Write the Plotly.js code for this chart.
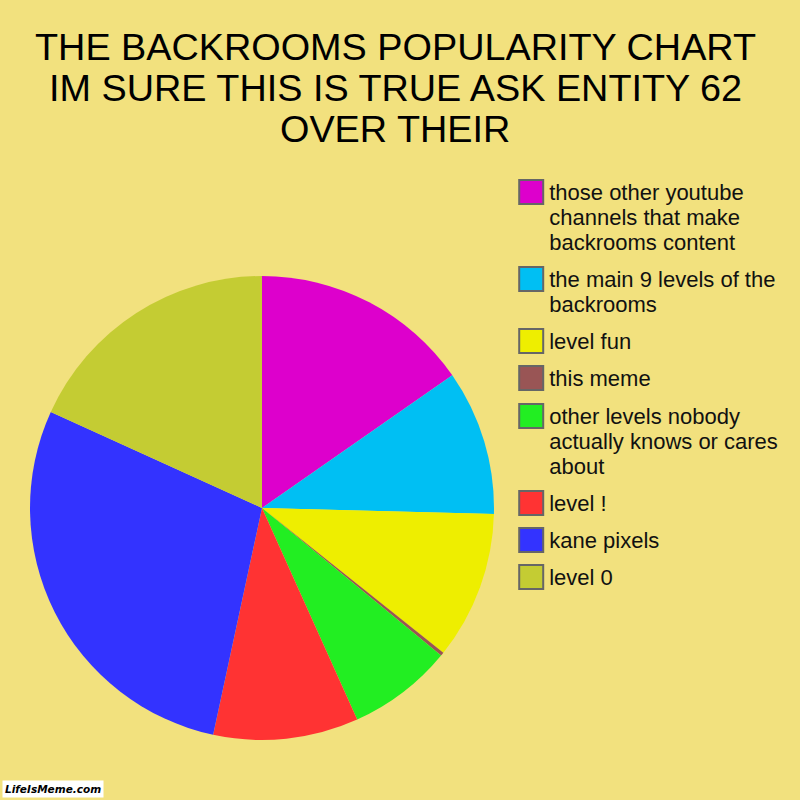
<!DOCTYPE html>
<html>
<head>
<meta charset="utf-8">
<script src="https://cdn.plot.ly/plotly-3.0.1.min.js"></script>
<style>html,body{margin:0;padding:0;background:#f2e17e;}#chart{width:800px;height:800px;}</style>
</head>
<body>
<div id="chart"></div>
<script>
var labels = [
  "those other youtube<br>channels that make<br>backrooms content",
  "the main 9 levels of the<br>backrooms",
  "level fun",
  "this meme",
  "other levels nobody<br>actually knows or cares<br>about",
  "level !",
  "kane pixels",
  "level 0"
];
var values = [15.3, 10.1, 10.3, 0.25, 7.3, 10.1, 28.4, 18.2];
var colors = ["#dd00cc", "#00bff3", "#eeee00", "#995555", "#22ee22", "#ff3333", "#3333ff", "#c4cc33"];
var titleLines = [
  "THE BACKROOMS POPULARITY CHART",
  "IM SURE THIS IS TRUE ASK ENTITY 62",
  "OVER THEIR"
];

var data = [{
  type: "pie",
  labels: labels,
  values: values,
  marker: {colors: colors, line: {width: 0}},
  sort: false,
  direction: "clockwise",
  rotation: 0,
  textinfo: "none",
  hoverinfo: "label+percent",
  domain: {x: [0.0375, 0.6175], y: [0.075, 0.655]}
}];

var titleY = [47, 88, 129];
var annotations = titleLines.map(function (t, i) {
  return {
    text: t,
    xref: "paper", yref: "paper",
    x: 0.494, xanchor: "center",
    y: 1 - (titleY[i]) / 800, yanchor: "middle",
    showarrow: false,
    font: {size: 37.8, color: "#000000"}
  };
});
annotations.push({
  text: "<b><i>LifeIsMeme.com</i></b>",
  xref: "paper", yref: "paper",
  x: 0.003, y: 0.002, xanchor: "left", yanchor: "bottom",
  showarrow: false,
  bgcolor: "#ffffff",
  font: {size: 10.5, color: "#000000", family: "DejaVu Sans, sans-serif"},
  borderpad: 2
});

var layout = {
  width: 800,
  height: 800,
  margin: {l: 0, r: 0, t: 0, b: 0},
  paper_bgcolor: "#f2e17e",
  plot_bgcolor: "#f2e17e",
  font: {family: "Liberation Sans, Arial, sans-serif", color: "#111111"},
  showlegend: true,
  legend: {
    x: 0.639, xanchor: "left",
    y: 0.78, yanchor: "top",
    font: {size: 22, color: "#111111"},
    bgcolor: "rgba(0,0,0,0)",
    traceorder: "normal"
  },
  annotations: annotations
};

// target centres (px) of each legend symbol / first text line
var legendTargets = [192, 279, 341, 378, 416, 503, 540, 577];

Plotly.newPlot("chart", data, layout, {displayModeBar: false, staticPlot: true}).then(function (gd) {
  var fs = 22;
  var items = gd.querySelectorAll(".legend .traces");
  var sc = gd.querySelectorAll(".legend .scrollbox, .legend [clip-path]");
  sc.forEach(function (e) { e.removeAttribute("clip-path"); });
  items.forEach(function (g, i) {
    var p = g.querySelector(".legendpoints path");
    if (p) {
      p.setAttribute("d", "M12,12H-12V-12H12Z");
      p.style.stroke = "#666666";
      p.style.strokeWidth = "2px";
    }
    var t = g.querySelector("text.legendtext");
    if (t) {
      var ty = 0.36 * fs;
      t.setAttribute("x", 38);
      t.setAttribute("y", ty);
      var lines = t.querySelectorAll("tspan.line");
      lines.forEach(function (ln, k) {
        ln.setAttribute("x", 38);
        ln.setAttribute("y", ty);
        ln.setAttribute("dy", (k * 1.14) + "em");
      });
    }
  });
  if (items.length) {
    var tr0 = items[0].getAttribute("transform") || "translate(0,0)";
    var m = /translate\(\s*([-\d.]+)[ ,]+([-\d.]+)\s*\)/.exec(tr0);
    var x0 = m ? parseFloat(m[1]) : 0, y0 = m ? parseFloat(m[2]) : 0;
    items.forEach(function (g, i) {
      g.setAttribute("transform", "translate(" + x0 + "," + (y0 + legendTargets[i] - legendTargets[0]) + ")");
    });
    var p0 = items[0].querySelector(".legendpoints path");
    var gr = gd.getBoundingClientRect();
    var r = p0.getBoundingClientRect();
    var shift = legendTargets[0] - ((r.top + r.bottom) / 2 - gr.top);
    items.forEach(function (g, i) {
      g.setAttribute("transform", "translate(" + x0 + "," + (y0 + shift + legendTargets[i] - legendTargets[0]) + ")");
    });
  }
});
</script>
</body>
</html>
